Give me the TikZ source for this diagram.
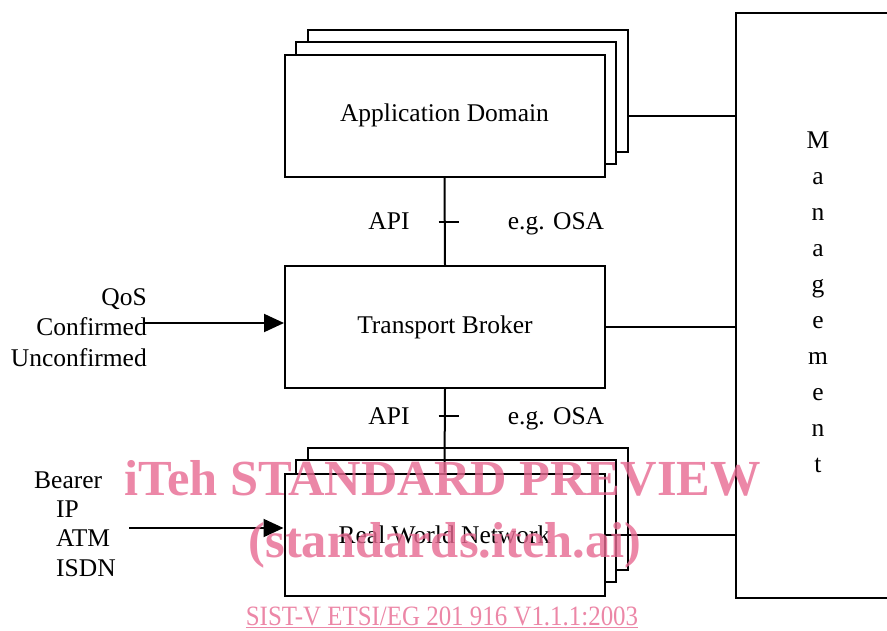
\documentclass[tikz,border=0pt]{standalone}
\usepackage{fontspec}
\setmainfont{Liberation Serif}
\usetikzlibrary{arrows.meta,calc}
\definecolor{wmpink}{RGB}{231,105,145}
\newcommand{\lblsize}{\fontsize{25.5}{30}\selectfont}

\begin{document}
\begin{tikzpicture}[x=1pt,y=-1pt,
  blk/.style={draw, fill=white, line width=2pt, minimum width=320pt,
              minimum height=122pt, inner sep=0pt, font=\lblsize},
  wire/.style={line width=2pt},
  feed/.style={line width=2pt, -{Triangle[length=20pt,width=18pt]}},
  txt/.style={inner sep=0pt, font=\lblsize},
  wm/.style={inner sep=0pt, text=wmpink, opacity=0.8}]
\useasboundingbox (0,0) rectangle (887,630);
\clip (0,0) rectangle (887,630);

% management column on the right
\node[draw, line width=2pt, minimum width=174pt, minimum height=585pt,
      inner sep=0pt] (mgmt) at (823,305.5) {};
\node[txt, align=center, font=\fontsize{25.5}{36}\selectfont] (mtext) at (818,302)
  {M\\a\\n\\a\\g\\e\\m\\e\\n\\t};

% application domain stack
\node[blk] (appB) at (468,91) {};
\node[blk] (appM) at (456,103) {};
\node[blk] (app) at (444.5,115.5) {Application Domain};

% transport broker
\node[blk] (tb) at (445,327) {Transport Broker};

% real world network stack
\node[blk] (rwnB) at (467.5,508.5) {};
\node[blk] (rwnM) at (456,520.5) {};
\node[blk] (rwn) at (444.5,534.5) {Real World Network};

% vertical interfaces with API ticks
\draw[wire] (app.south) -- (tb.north);
\draw[wire] (tb.south) -- (rwn.north);
\coordinate (t1) at (444.5,222);
\coordinate (t2) at (444.5,416);
\draw[wire] ([xshift=-6pt]t1) -- ([xshift=14pt]t1);
\draw[wire] ([xshift=-6pt]t2) -- ([xshift=14pt]t2);
\node[txt, anchor=base] (api1) at (389,229.5) {API};
\node[txt, anchor=base] (osa1) at (556,229.5) {e.g. OSA};
\node[txt, anchor=base] (api2) at (389,424.5) {API};
\node[txt, anchor=base] (osa2) at (556,424.5) {e.g. OSA};

% links to management
\draw[wire] (appB.east |- app.center) -- (mgmt.west |- app.center);
\draw[wire] (tb.east) -- (mgmt.west |- tb.east);
\draw[wire] (rwn.east) -- (mgmt.west |- rwn.east);

% inputs on the left
\node[txt, align=right, anchor=east, font=\fontsize{25.5}{30.5}\selectfont] (qos)
  at (147,327.5) {QoS\\Confirmed\\Unconfirmed};
\coordinate (qsrc) at (145,323);
\draw[feed] (qsrc) -- (qsrc -| tb.west);

\node[txt, align=left, anchor=west, font=\fontsize{25.5}{29.3}\selectfont] (bearer)
  at (34,524) {Bearer\\\hspace*{22pt}IP\\\hspace*{22pt}ATM\\\hspace*{22pt}ISDN};
\coordinate (bsrc) at (129,528);
\draw[feed] (bsrc) -- (bsrc -| rwn.west);

% preview watermark
\node[wm, anchor=base, font=\fontsize{50.5}{52}\selectfont\bfseries] (wm1)
  at (442.5,495) {iTeh STANDARD PREVIEW};
\node[wm, anchor=base, font=\fontsize{50.5}{52}\selectfont\bfseries] (wm2)
  at (445,557) {(standards.iteh.ai)};
\node[wm, anchor=base, font=\fontsize{28}{30}\selectfont] (wm3)
  at (442,625) {\scalebox{0.89}[1]{\underline{SIST-V ETSI/EG 201 916 V1.1.1:2003}}};
\end{tikzpicture}
\end{document}
